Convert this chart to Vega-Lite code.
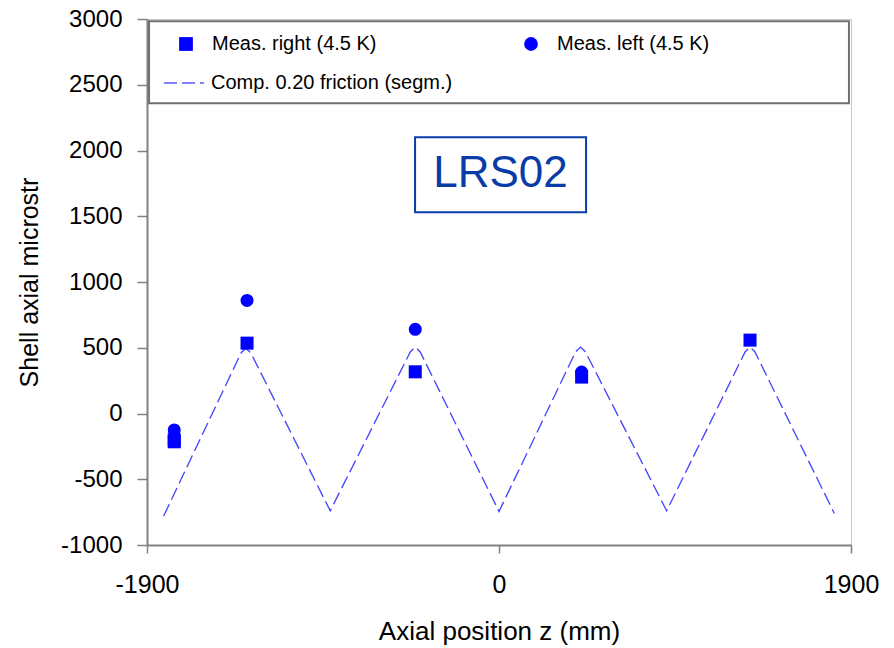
{
  "$schema": "https://vega.github.io/schema/vega-lite/v6.json",
  "width": 704,
  "height": 526,
  "autosize": {"type": "none"},
  "padding": {"left": 147, "top": 19, "right": 43, "bottom": 103},
  "background": "white",
  "config": {
    "view": {"stroke": "#c8c8c8", "strokeWidth": 1},
    "font": "Liberation Sans",
    "axis": {
      "domainColor": "#808080",
      "domainWidth": 2,
      "tickColor": "#808080",
      "tickWidth": 1.5,
      "grid": false,
      "labelFlush": false,
      "labelFont": "Liberation Sans",
      "labelColor": "black",
      "titleFont": "Liberation Sans",
      "titleFontSize": 25,
      "titleFontWeight": "normal",
      "titleColor": "black"
    },
    "legend": {
      "labelFont": "Liberation Sans",
      "labelFontSize": 20,
      "labelColor": "black",
      "labelLimit": 400,
      "padding": 0,
      "title": null
    }
  },
  "resolve": {"legend": {"shape": "independent", "strokeDash": "independent"}},
  "layer": [
    {
      "data": {"values": [{"box": "legend"}]},
      "mark": {"type": "rect", "fill": "white", "stroke": "#707070", "strokeWidth": 2},
      "encoding": {
        "x": {"datum": -1889, "type": "quantitative", "scale": {"domain": [-1900, 1900], "nice": false}},
        "x2": {"datum": 1889},
        "y": {"datum": 2982, "type": "quantitative", "scale": {"domain": [-1000, 3000], "nice": false}},
        "y2": {"datum": 2359}
      }
    },
    {
      "data": {"values": [{"label": "LRS02"}]},
      "mark": {"type": "rect", "fill": "white", "stroke": "#0a3ca8", "strokeWidth": 2},
      "encoding": {
        "x": {"datum": -453, "type": "quantitative"},
        "x2": {"datum": 470},
        "y": {"datum": 2100, "type": "quantitative"},
        "y2": {"datum": 1530}
      }
    },
    {
      "data": {"values": [{"label": "LRS02"}]},
      "mark": {"type": "text", "color": "#0a3ca8", "fontSize": 44, "font": "Liberation Sans", "align": "center", "baseline": "middle"},
      "encoding": {
        "x": {"datum": 8, "type": "quantitative"},
        "y": {"datum": 1825, "type": "quantitative"},
        "text": {"field": "label"}
      }
    },
    {
      "data": {"values": [
        {"z": -1810, "strain": -780, "series": "Comp. 0.20 friction (segm.)"},
        {"z": -1392, "strain": 462, "series": "Comp. 0.20 friction (segm.)"},
        {"z": -1366, "strain": 495, "series": "Comp. 0.20 friction (segm.)"},
        {"z": -1340, "strain": 462, "series": "Comp. 0.20 friction (segm.)"},
        {"z": -911, "strain": -740, "series": "Comp. 0.20 friction (segm.)"},
        {"z": -478, "strain": 470, "series": "Comp. 0.20 friction (segm.)"},
        {"z": -452, "strain": 505, "series": "Comp. 0.20 friction (segm.)"},
        {"z": -426, "strain": 470, "series": "Comp. 0.20 friction (segm.)"},
        {"z": 0, "strain": -745, "series": "Comp. 0.20 friction (segm.)"},
        {"z": 414, "strain": 470, "series": "Comp. 0.20 friction (segm.)"},
        {"z": 440, "strain": 505, "series": "Comp. 0.20 friction (segm.)"},
        {"z": 466, "strain": 470, "series": "Comp. 0.20 friction (segm.)"},
        {"z": 905, "strain": -740, "series": "Comp. 0.20 friction (segm.)"},
        {"z": 1329, "strain": 470, "series": "Comp. 0.20 friction (segm.)"},
        {"z": 1355, "strain": 505, "series": "Comp. 0.20 friction (segm.)"},
        {"z": 1381, "strain": 470, "series": "Comp. 0.20 friction (segm.)"},
        {"z": 1810, "strain": -760, "series": "Comp. 0.20 friction (segm.)"}
      ]},
      "mark": {"type": "line", "color": "#4040ff", "strokeWidth": 1.3},
      "encoding": {
        "x": {"field": "z", "type": "quantitative", "sort": null,
              "axis": {"values": [-1900, 0, 1900], "labelExpr": "'' + datum.value", "labelFontSize": 25, "title": "Axial position z (mm)", "titleFontSize": 26, "tickSize": 8, "labelPadding": 19, "titlePadding": 21}},
        "y": {"field": "strain", "type": "quantitative",
              "axis": {"values": [-1000, -500, 0, 500, 1000, 1500, 2000, 2500, 3000], "labelExpr": "'' + datum.value", "labelFontSize": 24, "title": "Shell axial microstr", "tickSize": 10, "labelPadding": 15, "titlePadding": 18}},
        "strokeDash": {
          "field": "series", "type": "nominal",
          "scale": {"domain": ["Comp. 0.20 friction (segm.)"], "range": [[13, 5]]},
          "legend": {
            "orient": "none",
            "legendX": 16,
            "legendY": 43,
            "symbolType": "stroke",
            "symbolSize": 1600,
            "symbolStrokeWidth": 1.5,
            "symbolStrokeColor": "#5a5aff",
            "labelOffset": 6,
            "symbolDash": [16, 7]
          }
        }
      }
    },
    {
      "data": {"values": [
        {"z": -1753, "strain": -200, "series": "Meas. right (4.5 K)"},
        {"z": -1753, "strain": -215, "series": "Meas. right (4.5 K)"},
        {"z": -1753, "strain": -125, "series": "Meas. left (4.5 K)"},
        {"z": -1360, "strain": 535, "series": "Meas. right (4.5 K)"},
        {"z": -1360, "strain": 860, "series": "Meas. left (4.5 K)"},
        {"z": -452, "strain": 317, "series": "Meas. right (4.5 K)"},
        {"z": -452, "strain": 640, "series": "Meas. left (4.5 K)"},
        {"z": 446, "strain": 277, "series": "Meas. right (4.5 K)"},
        {"z": 446, "strain": 315, "series": "Meas. left (4.5 K)"},
        {"z": 1355, "strain": 558, "series": "Meas. right (4.5 K)"}
      ]},
      "mark": {"type": "point", "filled": true, "color": "#0000ff", "opacity": 1, "size": 170},
      "encoding": {
        "x": {"field": "z", "type": "quantitative"},
        "y": {"field": "strain", "type": "quantitative"},
        "shape": {
          "field": "series",
          "type": "nominal",
          "scale": {
            "domain": ["Meas. right (4.5 K)", "Meas. left (4.5 K)"],
            "range": ["square", "circle"]
          },
          "legend": {
            "orient": "none",
            "legendX": 29,
            "legendY": 15,
            "direction": "horizontal",
            "columns": 2,
            "columnPadding": 144,
            "labelOffset": 16,
            "symbolSize": 190,
            "symbolFillColor": "#0000ff",
            "symbolStrokeColor": "#0000ff",
            "symbolStrokeWidth": 0,
            "symbolOpacity": 1
          }
        }
      }
    }
  ]
}
